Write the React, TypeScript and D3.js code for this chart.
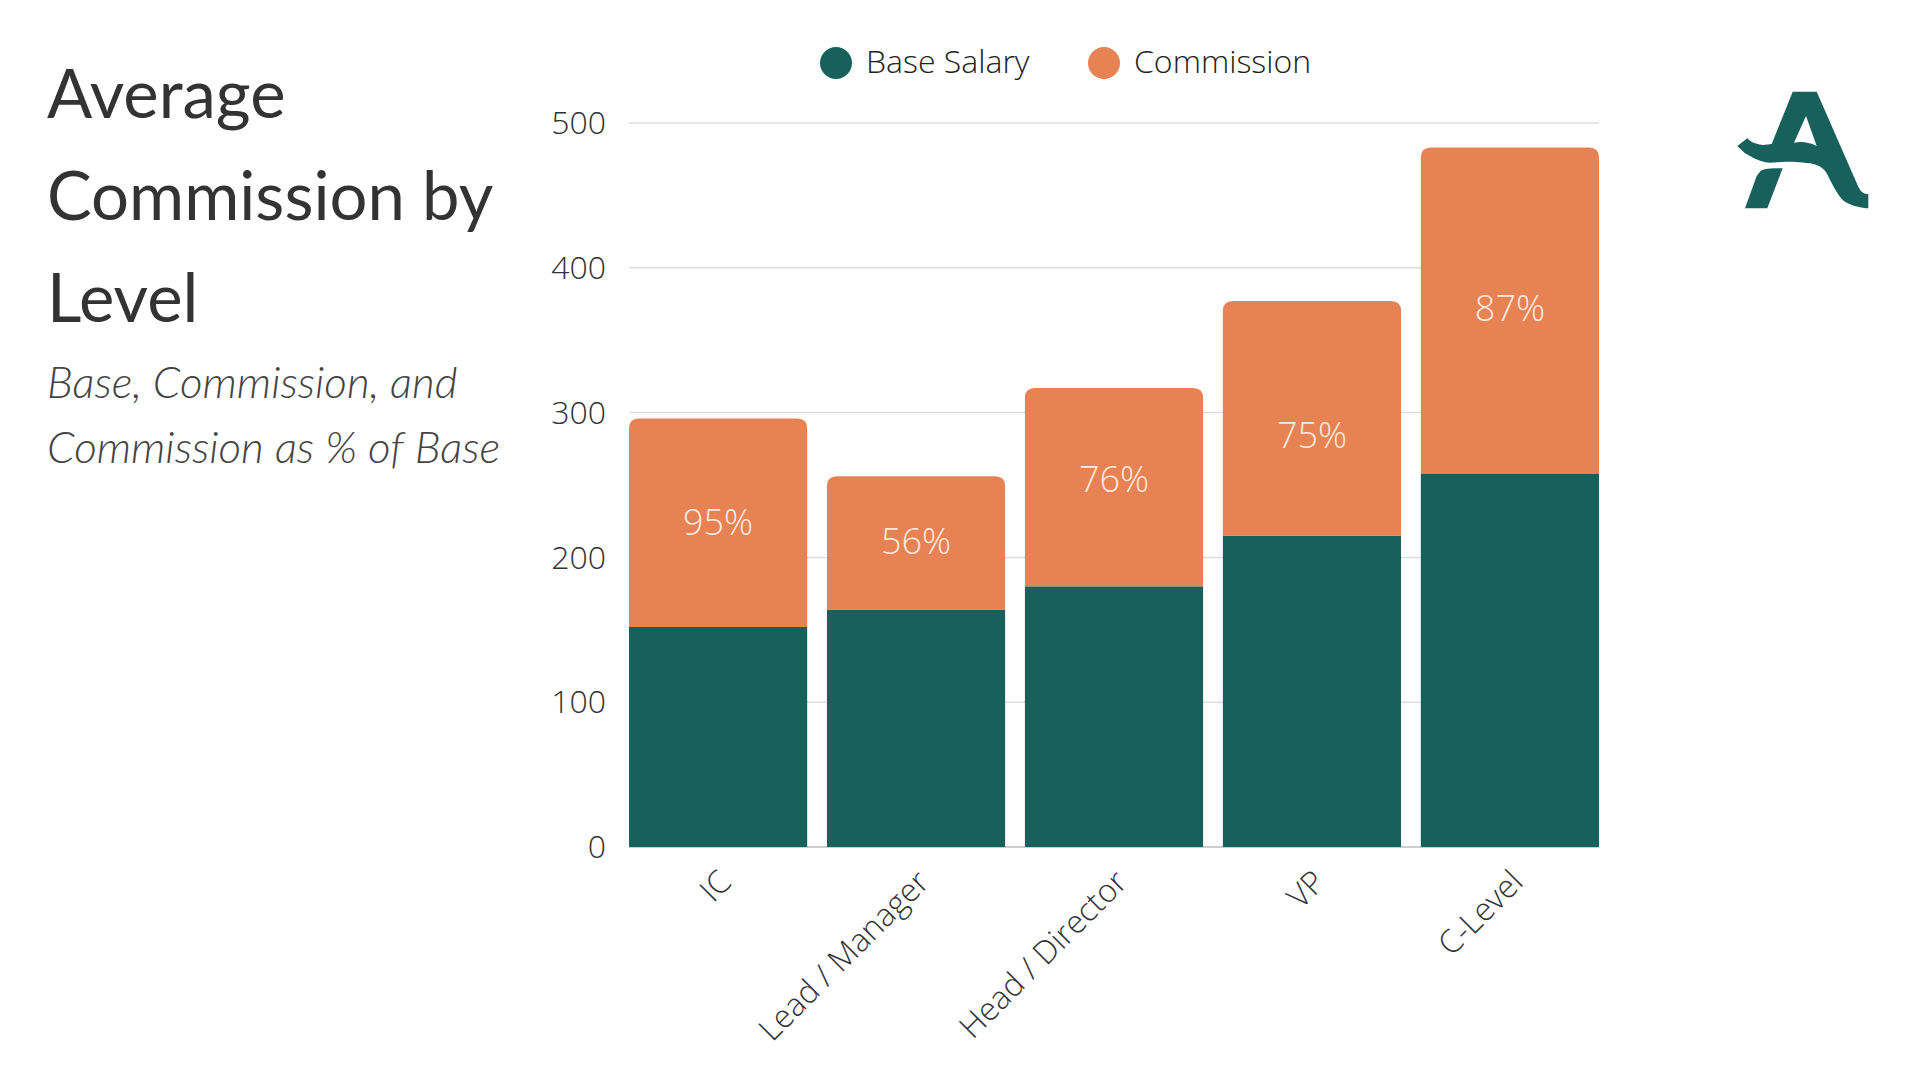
import React, { useEffect, useRef } from 'react';
import * as d3 from 'd3';

const width = 1920;
const height = 1080;

// values
const levels = ['IC', 'Lead / Manager', 'Head / Director', 'VP', 'C-Level'];
const baseSalary = [152, 164, 180, 215, 258];
const commission = [144, 92, 137, 162, 225];
// where each % label sits, in axis units
const labelAt = [224, 211, 254, 284, 372];
const yTicks = [0, 100, 200, 300, 400, 500];
const legendLabels = ['Base Salary', 'Commission'];
const titleLines = ['Average', 'Commission by', 'Level'];
const subtitleLines = ['Base, Commission, and', 'Commission as % of Base'];

const teal = '#18605c';
const orange = '#e68254';
const sans = "'Open Sans', sans-serif";
const headFont = "Lato, 'Noto Sans', sans-serif";

const y = d3.scaleLinear()
  .domain([0, 500])
  .range([847, 123]);

const x = d3.scaleBand<string>()
  .domain(levels)
  .range([629, 1599])
  .paddingInner(0.1)
  .paddingOuter(0);

// logo outline, drawn in its own local box
const logoPath =
  'M17.3,76 L27.3,68.3 C30,71 33,74 43.3,75 L51.7,74 L72.7,21.7 L96.7,21.7 L138.3,116.7 ' +
  'C141,122 144,124 148.3,124 L148.3,138.3 C142,138 132,136 125,131.7 C120,128 116,122 106.7,103.3 ' +
  'C104,99 100,95 90,93.3 C80,92 70,91.7 66.7,91.7 C58,92 52,93 50,92.7 C44,92.5 38,91 25,83.3 Z ' +
  'M86,46 L74,72.7 C80,71.5 88,71.5 96.7,76 Z ' +
  'M40,101.7 C42,99.5 45,98.3 62.7,98.3 L47.3,138.3 L25,138.3 L36.7,106 Z';

function roundTop(x0: number, y0: number, w: number, y1: number, r: number) {
  return `M${x0},${y0} L${x0},${y1 + r} Q${x0},${y1} ${x0 + r},${y1} ` +
    `L${x0 + w - r},${y1} Q${x0 + w},${y1} ${x0 + w},${y1 + r} L${x0 + w},${y0} Z`;
}

export default function App() {
  const ref = useRef<SVGSVGElement>(null);

  useEffect(() => {
    document.body.style.margin = '0';
    const svg = d3.select(ref.current);
    svg.selectAll('*').remove();

    svg.append('rect').attr('width', width).attr('height', height).attr('fill', '#fff');

    // title block
    svg.append('g').selectAll('text')
      .data(titleLines)
      .enter().append('text')
      .attr('x', 47)
      .attr('y', (d, i) => 118 + i * 102)
      .attr('font-family', headFont)
      .attr('font-size', 67)
      .attr('fill', '#333')
      .text(d => d);

    svg.append('g').selectAll('text')
      .data(subtitleLines)
      .enter().append('text')
      .attr('x', 47)
      .attr('y', (d, i) => 398 + i * 65)
      .attr('font-family', headFont)
      .attr('font-style', 'italic')
      .attr('font-weight', 300)
      .attr('font-size', 44)
      .attr('fill', '#444')
      .text(d => d);

    // gridlines + y labels
    const [gx0, gx1] = x.range();
    const grid = svg.append('g');
    grid.selectAll('line')
      .data(yTicks)
      .enter().append('line')
      .attr('x1', gx0)
      .attr('x2', gx1)
      .attr('y1', d => y(d))
      .attr('y2', d => y(d))
      .attr('stroke', d => (d === 0 ? '#bdbdbd' : '#dedede'))
      .attr('stroke-width', 1.5);

    grid.selectAll('text')
      .data(yTicks)
      .enter().append('text')
      .attr('x', 606)
      .attr('y', d => y(d))
      .attr('dy', '0.35em')
      .attr('text-anchor', 'end')
      .attr('font-family', sans)
      .attr('font-weight', 300)
      .attr('font-size', 32)
      .attr('fill', '#333')
      .text(d => d);

    // stacked bars
    const bars = svg.append('g');
    bars.selectAll('rect')
      .data(levels)
      .enter().append('rect')
      .attr('x', d => x(d))
      .attr('y', (d, i) => y(baseSalary[i]))
      .attr('width', x.bandwidth())
      .attr('height', (d, i) => y(0) - y(baseSalary[i]))
      .attr('fill', teal);

    bars.selectAll('path')
      .data(levels)
      .enter().append('path')
      .attr('d', (d, i) => roundTop(x(d), y(baseSalary[i]), x.bandwidth(),
        y(baseSalary[i] + commission[i]), 10))
      .attr('fill', orange);

    bars.selectAll('text')
      .data(levels)
      .enter().append('text')
      .attr('x', d => x(d) + x.bandwidth() / 2)
      .attr('y', (d, i) => y(labelAt[i]))
      .attr('dy', '0.35em')
      .attr('text-anchor', 'middle')
      .attr('font-family', sans)
      .attr('font-weight', 300)
      .attr('font-size', 36)
      .attr('fill', '#fde9dc')
      .text((d, i) => Math.round(commission[i] / baseSalary[i] * 100) + '%');

    // x labels, rotated
    svg.append('g').selectAll('text')
      .data(levels)
      .enter().append('text')
      .attr('transform', d => `translate(${x(d) + x.bandwidth() / 2 + 15}, ${y(0) + 37}) rotate(-45)`)
      .attr('text-anchor', 'end')
      .attr('font-family', sans)
      .attr('font-weight', 300)
      .attr('font-size', 32)
      .attr('fill', '#333')
      .text(d => d);

    // legend
    const legend = svg.append('g');
    const legendX = [836, 1104];
    legend.selectAll('circle')
      .data(legendLabels)
      .enter().append('circle')
      .attr('cx', (d, i) => legendX[i])
      .attr('cy', 63)
      .attr('r', 16)
      .attr('fill', (d, i) => (i === 0 ? teal : orange));
    legend.selectAll('text')
      .data(legendLabels)
      .enter().append('text')
      .attr('x', (d, i) => legendX[i] + 30)
      .attr('y', 62)
      .attr('dy', '0.35em')
      .attr('font-family', sans)
      .attr('font-weight', 300)
      .attr('font-size', 32)
      .attr('fill', '#222')
      .text(d => d);

    // logo
    svg.append('path')
      .attr('transform', 'translate(1720, 70)')
      .attr('d', logoPath)
      .attr('fill', teal)
      .attr('fill-rule', 'evenodd');
  }, []);

  return <svg ref={ref} width={width} height={height} style={{ display: 'block' }} />;
}
